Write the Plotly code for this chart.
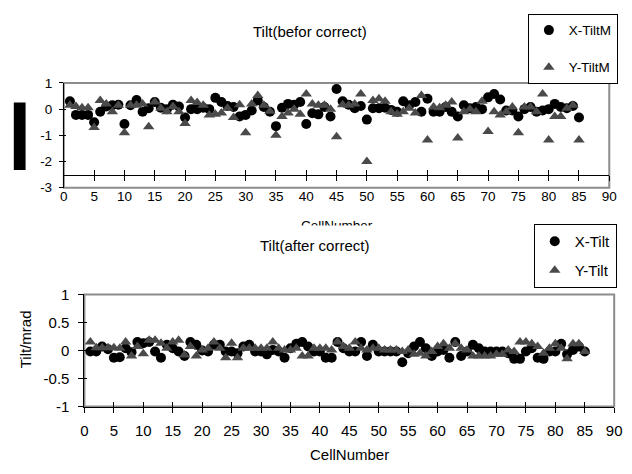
import plotly.graph_objects as go

# ---------------- data ----------------
cells = list(range(1, 86))

x_tilt_before = [0.30, -0.22, -0.22, -0.22, -0.50, -0.10, 0.10, 0.15, 0.17, -0.57,
                 0.15, 0.35, -0.10, 0.03, 0.27, 0.05, 0.00, 0.17, 0.10, -0.32,
                 0.00, 0.00, 0.05, 0.00, 0.43, 0.27, 0.12, 0.08, -0.28, -0.22,
                 -0.05, 0.33, 0.08, -0.10, -0.65, 0.05, 0.20, 0.17, 0.27, -0.57,
                 -0.16, -0.20, 0.08, -0.28, 0.77, 0.30, 0.17, 0.03, 0.12, -0.40,
                 0.03, 0.03, 0.05, -0.03, -0.10, 0.30, 0.15, 0.27, -0.10, 0.40,
                 -0.10, -0.10, 0.08, -0.10, -0.28, 0.15, 0.03, 0.08, 0.00, 0.45,
                 0.58, 0.37, -0.05, -0.05, -0.28, 0.00, 0.08, -0.10, -0.05, 0.00,
                 0.20, 0.08, 0.03, 0.12, -0.32]

y_tilt_before = [0.15, 0.10, 0.05, 0.05, -0.70, 0.33, 0.20, -0.10, 0.15, -0.90,
                 0.15, 0.15, 0.20, -0.67, 0.27, 0.03, -0.10, 0.10, -0.10, -0.55,
                 0.33, 0.25, 0.15, -0.22, -0.20, -0.15, 0.03, -0.32, 0.17, -0.90,
                 0.20, 0.52, 0.15, -0.08, -1.00, -0.28, -0.15, 0.00, -0.20, 0.58,
                 0.20, 0.15, 0.15, 0.00, -1.06, 0.17, 0.15, 0.20, 0.58, -2.00,
                 0.33, 0.40, 0.30, -0.10, -0.20, -0.10, 0.03, -0.15, 0.52, -1.18,
                 0.08, 0.05, 0.15, 0.27, -1.10, -0.10, 0.00, -0.10, 0.30, -0.85,
                 -0.10, -0.22, -0.10, 0.08, -0.90, 0.08, 0.08, -0.10, 0.58, -1.18,
                 -0.28, -0.28, 0.03, 0.15, -1.18]

x_tilt_after = [-0.02, -0.02, 0.07, 0.02, -0.13, -0.12, 0.04, -0.03, 0.15, 0.13,
                0.15, -0.02, -0.13, 0.10, 0.04, -0.02, -0.10, 0.15, 0.10, 0.00,
                -0.02, 0.10, 0.10, -0.02, -0.02, -0.05, 0.07, 0.10, -0.02, -0.02,
                -0.07, 0.01, -0.02, -0.13, 0.04, 0.12, 0.15, 0.07, -0.02, -0.02,
                -0.13, -0.13, 0.15, 0.04, -0.02, -0.02, 0.15, -0.10, 0.10, -0.02,
                -0.02, -0.02, -0.02, -0.21, -0.05, 0.07, 0.15, 0.04, -0.10, -0.02,
                0.01, -0.13, 0.15, -0.10, -0.02, 0.10, 0.04, -0.02, -0.02, -0.02,
                -0.02, -0.05, -0.15, -0.15, -0.02, 0.04, -0.13, -0.15, -0.02, -0.02,
                0.12, -0.07, 0.01, 0.07, -0.02]

y_tilt_after = [0.15, 0.05, 0.05, 0.05, 0.05, 0.04, 0.15, -0.10, 0.07, -0.06,
                0.18, 0.18, 0.13, 0.04, 0.15, 0.18, -0.08, 0.07, -0.10, 0.01,
                0.04, 0.15, 0.04, -0.13, 0.13, -0.13, 0.04, 0.04, 0.04, 0.04,
                0.04, 0.15, 0.04, 0.01, 0.01, 0.04, -0.10, -0.10, 0.04, 0.04,
                0.04, 0.01, 0.15, 0.07, 0.04, 0.15, 0.04, 0.01, 0.04, 0.04,
                0.01, 0.01, 0.01, -0.02, 0.01, -0.07, -0.05, -0.10, -0.02, 0.07,
                0.12, 0.04, 0.12, 0.04, 0.01, -0.10, -0.10, -0.10, -0.10, -0.07,
                -0.07, 0.01, -0.02, 0.15, 0.15, 0.12, 0.07, -0.05, 0.04, 0.12,
                0.04, -0.15, 0.12, 0.12, -0.02]

x_ticks = list(range(0, 91, 5))
x_tick_labels = [str(v) for v in x_ticks]
y_ticks_top = [-3, -2, -1, 0, 1]
y_tick_labels_top = ["-3", "-2", "-1", "0", "1"]
y_ticks_bottom = [-1, -0.5, 0, 0.5, 1]
y_tick_labels_bottom = ["-1", "-0.5", "0", "0.5", "1"]

# ---------------- layout helpers ----------------
W, H = 632, 474
def px(x):
    return x / W
def py(y):
    return 1 - y / H

FONT = "Liberation Sans, Arial, sans-serif"
BLACK = "#000000"
GRAY_MARK = "#4a4a4a"
FRAME = "#8c8c8c"

top_dom_x = [px(61), px(617)]
top_dom_y = [py(185.3), py(76.7)]
bot_dom_x = [px(82), px(622)]
bot_dom_y = [py(412.3), py(296)]
top_axis_pos = py(171.7)   # x axis crosses the top chart at -2.5

fig = go.Figure()

fig.add_trace(go.Scatter(x=cells, y=x_tilt_before, mode="markers", name="X-TiltM",
                         marker=dict(symbol="circle", size=10, color=BLACK),
                         xaxis="x", yaxis="y", legend="legend", legendgroup="a"))
fig.add_trace(go.Scatter(x=cells, y=y_tilt_before, mode="markers", name="Y-TiltM",
                         marker=dict(symbol="triangle-up", size=10, color=GRAY_MARK),
                         xaxis="x", yaxis="y", legend="legend", legendgroup="b"))
fig.add_trace(go.Scatter(x=cells, y=x_tilt_after, mode="markers", name="X-Tilt",
                         marker=dict(symbol="circle", size=10, color=BLACK),
                         xaxis="x2", yaxis="y2", legend="legend2", legendgroup="c"))
fig.add_trace(go.Scatter(x=cells, y=y_tilt_after, mode="markers", name="Y-Tilt",
                         marker=dict(symbol="triangle-up", size=10, color=GRAY_MARK),
                         xaxis="x2", yaxis="y2", legend="legend2", legendgroup="d"))

# empty helper traces so the overlay axes (inner half of the cross ticks) get drawn
for xa, ya in (("x3", "y"), ("x", "y3"), ("x5", "y2"), ("x2", "y4")):
    fig.add_trace(go.Scatter(x=[], y=[], mode="markers", xaxis=xa, yaxis=ya,
                             showlegend=False, hoverinfo="skip"))

common = dict(showgrid=False, zeroline=False)
fs_top = 13.5
fs_bot = 15

fig.update_layout(
    width=W, height=H, autosize=False,
    margin=dict(l=0, r=0, t=0, b=0),
    paper_bgcolor="white", plot_bgcolor="white",
    font=dict(family=FONT, color=BLACK),
    # top chart
    xaxis=dict(domain=top_dom_x, anchor="free", position=top_axis_pos, range=[0, 90],
               tickvals=x_ticks, ticktext=x_tick_labels,
               showline=True, linecolor=BLACK, linewidth=1, ticks="outside", ticklen=5, tickcolor=BLACK,
               tickfont=dict(size=fs_top), ticklabelstandoff=4, **common),
    yaxis=dict(domain=top_dom_y, anchor="x", range=[-3, 1], tickvals=y_ticks_top, ticktext=y_tick_labels_top,
               showline=True, linecolor=BLACK, linewidth=1, ticks="outside", ticklen=4, tickcolor=BLACK,
               tickfont=dict(size=fs_top), ticklabelstandoff=4, **common),
    xaxis3=dict(overlaying="x", anchor="free", position=top_axis_pos, range=[0, 90], tickvals=x_ticks,
                showticklabels=False, showline=False, ticks="inside", ticklen=5, tickcolor=BLACK, **common),
    yaxis3=dict(overlaying="y", anchor="x", range=[-3, 1], tickvals=y_ticks_top, showticklabels=False,
                showline=False, ticks="inside", ticklen=2, tickcolor=BLACK, **common),
    # bottom chart
    xaxis2=dict(domain=bot_dom_x, anchor="y2", range=[0, 90], tickvals=x_ticks, ticktext=x_tick_labels,
                showline=True, linecolor=BLACK, linewidth=1, ticks="outside", ticklen=5, tickcolor=BLACK,
                tickfont=dict(size=fs_bot), ticklabelstandoff=5, **common),
    xaxis5=dict(overlaying="x2", anchor="y2", range=[0, 90], tickvals=x_ticks, showticklabels=False,
                showline=False, ticks="inside", ticklen=5, tickcolor=BLACK, **common),
    yaxis2=dict(domain=bot_dom_y, anchor="x2", range=[-1, 1], tickvals=y_ticks_bottom, ticktext=y_tick_labels_bottom,
                showline=True, linecolor=BLACK, linewidth=1, ticks="outside", ticklen=5, tickcolor=BLACK,
                tickfont=dict(size=fs_bot), ticklabelstandoff=6, **common),
    yaxis4=dict(overlaying="y2", anchor="x2", range=[-1, 1], tickvals=y_ticks_bottom, showticklabels=False,
                showline=False, ticks="inside", ticklen=3, tickcolor=BLACK, **common),
    legend=dict(x=px(534), y=py(5), xanchor="left", yanchor="top", bgcolor="white",
                bordercolor=BLACK, borderwidth=1, font=dict(size=fs_top), tracegroupgap=16.5,
                itemwidth=30),
    legend2=dict(x=px(540), y=py(223), xanchor="left", yanchor="top", bgcolor="white",
                 bordercolor=BLACK, borderwidth=1, font=dict(size=fs_bot), tracegroupgap=6.5,
                 itemwidth=30),
    showlegend=True,
)

# plot-area frames (grey, Excel style)
for xr, yr in (("x domain", "y domain"), ("x2 domain", "y2 domain")):
    fig.add_shape(type="rect", xref=xr, yref=yr, x0=0, x1=1, y0=0, y1=1,
                  line=dict(color=FRAME, width=2), layer="below")

# redaction box where the top y-axis title was
fig.add_shape(type="rect", xref="paper", yref="paper", x0=px(10), x1=px(22), y0=py(167), y1=py(97),
              fillcolor=BLACK, line=dict(width=0))

ann = [
    dict(text="Tilt(befor correct)", x=px(312), y=py(23.5), font=dict(size=15)),
    dict(text="CellNumber", x=px(339), y=py(225), font=dict(size=fs_top)),
    # the lower chart object covers the bottom of the upper chart's axis title
    dict(text=" ", x=px(339), y=py(224), yanchor="top", width=140, height=14, bgcolor="white",
         borderpad=0, showarrow=False),
    dict(text="Tilt(after correct)", x=px(317), y=py(245), font=dict(size=fs_bot)),
    dict(text="CellNumber", x=px(352), y=py(462), font=dict(size=fs_bot)),
    dict(text="Tilt/mrad", x=px(22), y=py(343), textangle=-90, font=dict(size=fs_bot)),
]
for a in ann:
    a.setdefault("xref", "paper")
    a.setdefault("yref", "paper")
    a.setdefault("showarrow", False)
    a.setdefault("yanchor", "middle")
    a.setdefault("xanchor", "center")
    fig.add_annotation(**a)

fig.write_html("out.html", config={"displayModeBar": False},
               post_script="document.body.style.margin='0';document.body.style.overflow='hidden';")
